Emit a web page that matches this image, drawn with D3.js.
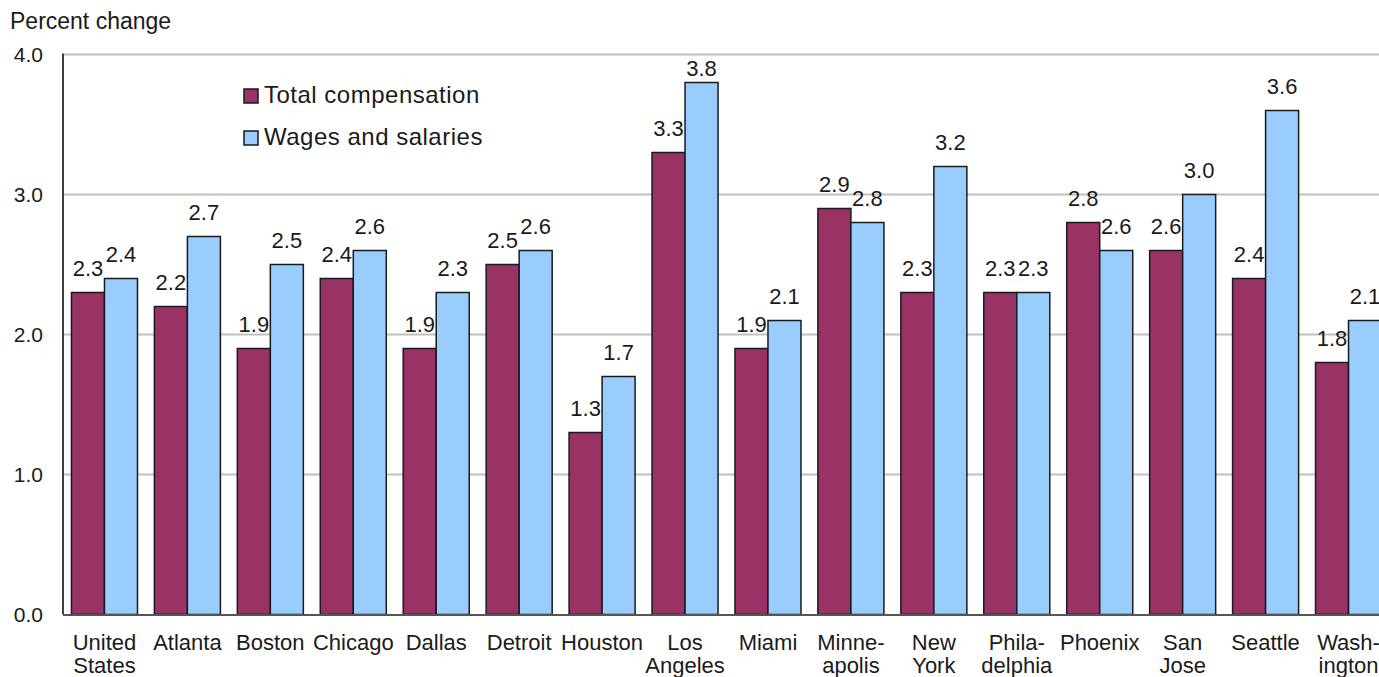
<!DOCTYPE html>
<html>
<head>
<meta charset="utf-8">
<script src="https://cdn.jsdelivr.net/npm/d3@7"></script>
<style>
  html, body { margin: 0; padding: 0; background: #fff; }
  svg { display: block; }
  text { font-family: "Liberation Sans", Arial, sans-serif; fill: #1a1a1a; }
</style>
</head>
<body>
<svg id="chart" width="1379" height="677"></svg>
<script>
const categories = [
  "United|States", "Atlanta", "Boston", "Chicago", "Dallas", "Detroit", "Houston",
  "Los|Angeles", "Miami", "Minne-|apolis", "New|York", "Phila-|delphia", "Phoenix",
  "San|Jose", "Seattle", "Wash-|ington"
];
const seriesNames = ["Total compensation", "Wages and salaries"];
const totalCompensation = [2.3, 2.2, 1.9, 2.4, 1.9, 2.5, 1.3, 3.3, 1.9, 2.9, 2.3, 2.3, 2.8, 2.6, 2.4, 1.8];
const wagesAndSalaries  = [2.4, 2.7, 2.5, 2.6, 2.3, 2.6, 1.7, 3.8, 2.1, 2.8, 3.2, 2.3, 2.6, 3.0, 3.6, 2.1];
const yTicks = [0, 1, 2, 3, 4];
const seriesColors = ["#993366", "#99CCFF"];

(function () {
const svg = d3.select("#chart");
const pLeft = 63, pRight = 1390, pTop = 54.5, pBottom = 614.5;

const x = d3.scaleBand().domain(categories).range([pLeft, pRight])
  .paddingInner(0.204).paddingOuter(0.102);
const xs = d3.scaleBand().domain(seriesNames).range([0, x.bandwidth()]);
const y = d3.scaleLinear().domain([0, 4]).range([pBottom, pTop]);

// gridlines
svg.append("g").selectAll("line").data(yTicks.filter(d => d > 0)).join("line")
  .attr("x1", pLeft).attr("x2", 1379)
  .attr("y1", d => y(d)).attr("y2", d => y(d))
  .attr("stroke", "#c0c0c0").attr("stroke-width", 2);

// y tick labels
svg.append("g").selectAll("text").data(yTicks).join("text")
  .attr("x", 43).attr("y", d => y(d)).attr("dy", "0.36em")
  .attr("text-anchor", "end").attr("font-size", 21)
  .text(d => d3.format(".1f")(d));

// title
svg.append("text").attr("x", 10).attr("y", 29).attr("font-size", 23)
  .text("Percent change");

const rows = categories.map((c, i) => ({ c, vals: [totalCompensation[i], wagesAndSalaries[i]] }));

const groups = svg.append("g").selectAll("g").data(rows).join("g")
  .attr("transform", d => `translate(${x(d.c)},0)`);

groups.selectAll("rect").data(d => d.vals.map((v, j) => ({ v, s: seriesNames[j], j }))).join("rect")
  .attr("x", d => xs(d.s)).attr("width", xs.bandwidth())
  .attr("y", d => y(d.v)).attr("height", d => y(0) - y(d.v))
  .attr("fill", d => seriesColors[d.j])
  .attr("stroke", "#1a1a1a").attr("stroke-width", 1.5);

groups.selectAll("text.val").data(d => d.vals.map((v, j) => ({ v, s: seriesNames[j] }))).join("text")
  .attr("class", "val")
  .attr("x", d => xs(d.s) + xs.bandwidth() / 2)
  .attr("y", d => Math.max(y(d.v) - 17, pTop + 21.5))
  .attr("text-anchor", "middle").attr("font-size", 22)
  .text(d => d3.format(".1f")(d.v));

// axes lines
svg.append("line").attr("x1", pLeft).attr("x2", pLeft).attr("y1", pTop - 1).attr("y2", pBottom)
  .attr("stroke", "#404040").attr("stroke-width", 2);
svg.append("line").attr("x1", pLeft).attr("x2", 1379).attr("y1", pBottom + 0.5).attr("y2", pBottom + 0.5)
  .attr("stroke", "#555").attr("stroke-width", 2);

// category labels
const xAxis = svg.append("g");
categories.forEach(c => {
  const t = xAxis.append("text")
    .attr("x", x(c) + x.bandwidth() / 2).attr("y", 650)
    .attr("text-anchor", "middle").attr("font-size", 22);
  c.split("|").forEach((line, k) => {
    t.append("tspan").attr("x", x(c) + x.bandwidth() / 2)
      .attr("dy", k === 0 ? 0 : 23).text(line);
  });
});

// legend
const legend = svg.append("g");
seriesNames.forEach((s, i) => {
  const by = 103 + i * 42;
  legend.append("rect").attr("x", 244).attr("y", by - 14).attr("width", 14).attr("height", 14)
    .attr("fill", seriesColors[i]).attr("stroke", "#1a1a1a").attr("stroke-width", 1.5);
  legend.append("text").attr("x", 264).attr("y", by).attr("font-size", 24)
    .attr("letter-spacing", "0.5px").text(s);
});
})();
</script>
</body>
</html>
